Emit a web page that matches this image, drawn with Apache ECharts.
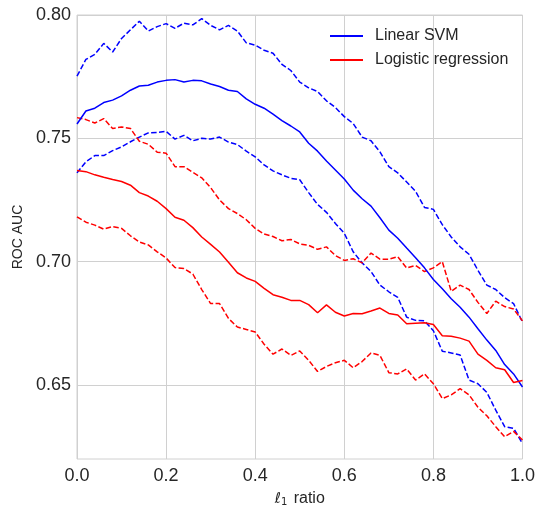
<!DOCTYPE html>
<html>
<head>
<meta charset="utf-8">
<script src="https://cdn.jsdelivr.net/npm/echarts@6/dist/echarts.min.js"></script>
<style>html,body{margin:0;padding:0;background:#fff;}#c{width:538px;height:512px;}</style>
</head>
<body>
<div id="c"></div>
<script>
const xRatio = [0.00,0.02,0.04,0.06,0.08,0.10,0.12,0.14,0.16,0.18,0.20,0.22,0.24,0.26,0.28,0.30,0.32,0.34,0.36,0.38,0.40,0.42,0.44,0.46,0.48,0.50,0.52,0.54,0.56,0.58,0.60,0.62,0.64,0.66,0.68,0.70,0.72,0.74,0.76,0.78,0.80,0.82,0.84,0.86,0.88,0.90,0.92,0.94,0.96,0.98,1.00];
const svmMean = [0.7558,0.7611,0.7622,0.7645,0.7655,0.7672,0.7695,0.7712,0.7715,0.7728,0.7735,0.7738,0.7728,0.7735,0.7733,0.7720,0.7710,0.7695,0.7690,0.7660,0.7638,0.7622,0.7598,0.7572,0.7550,0.7526,0.7480,0.7448,0.7408,0.7372,0.7335,0.7290,0.7255,0.7225,0.7178,0.7128,0.7095,0.7055,0.7016,0.6975,0.6928,0.6890,0.6850,0.6815,0.6775,0.6728,0.6682,0.6640,0.6583,0.6545,0.6492];
const svmUpper = [0.7752,0.7820,0.7840,0.7885,0.7850,0.7905,0.7940,0.7975,0.7935,0.7953,0.7965,0.7946,0.7967,0.7960,0.7985,0.7958,0.7940,0.7958,0.7935,0.7887,0.7878,0.7857,0.7845,0.7800,0.7775,0.7728,0.7705,0.7690,0.7652,0.7625,0.7588,0.7560,0.7505,0.7490,0.7445,0.7385,0.7360,0.7323,0.7285,0.7220,0.7212,0.7150,0.7100,0.7060,0.7030,0.6965,0.6905,0.6887,0.6854,0.6830,0.6755];
const svmLower = [0.7360,0.7405,0.7430,0.7430,0.7450,0.7465,0.7486,0.7505,0.7522,0.7524,0.7528,0.7497,0.7512,0.7490,0.7500,0.7497,0.7505,0.7485,0.7475,0.7448,0.7425,0.7392,0.7368,0.7352,0.7338,0.7332,0.7280,0.7232,0.7200,0.7155,0.7115,0.7040,0.6995,0.6960,0.6905,0.6878,0.6855,0.6775,0.6762,0.6760,0.6720,0.6637,0.6630,0.6622,0.6520,0.6505,0.6470,0.6398,0.6331,0.6324,0.6263];
const lrMean = [0.7370,0.7365,0.7352,0.7342,0.7333,0.7325,0.7310,0.7280,0.7266,0.7245,0.7215,0.7180,0.7168,0.7138,0.7100,0.7070,0.7039,0.6998,0.6955,0.6934,0.6920,0.6892,0.6866,0.6856,0.6843,0.6843,0.6826,0.6793,0.6825,0.6795,0.6780,0.6790,0.6789,0.6800,0.6812,0.6790,0.6784,0.6748,0.6750,0.6752,0.6745,0.6700,0.6698,0.6690,0.6678,0.6625,0.6600,0.6570,0.6562,0.6510,0.6518];
const lrUpper = [0.7584,0.7576,0.7562,0.7580,0.7540,0.7546,0.7540,0.7488,0.7476,0.7444,0.7440,0.7385,0.7385,0.7362,0.7340,0.7300,0.7250,0.7215,0.7195,0.7170,0.7135,0.7112,0.7102,0.7085,0.7090,0.7072,0.7066,0.7050,0.7060,0.7025,0.7005,0.7012,0.6995,0.7035,0.7010,0.7010,0.7020,0.6974,0.6985,0.6960,0.6975,0.7000,0.6880,0.6905,0.6887,0.6835,0.6790,0.6840,0.6818,0.6808,0.6760];
const lrLower = [0.7182,0.7160,0.7148,0.7132,0.7142,0.7135,0.7105,0.7080,0.7068,0.7040,0.7015,0.6976,0.6972,0.6950,0.6887,0.6830,0.6830,0.6770,0.6735,0.6725,0.6715,0.6665,0.6625,0.6646,0.6620,0.6638,0.6600,0.6555,0.6575,0.6590,0.6600,0.6570,0.6595,0.6630,0.6620,0.6550,0.6545,0.6565,0.6520,0.6545,0.6505,0.6445,0.6460,0.6485,0.6460,0.6410,0.6375,0.6331,0.6290,0.6312,0.6277];
const xTicks = [0.0,0.2,0.4,0.6,0.8,1.0];
const yTicks = [0.65,0.70,0.75,0.80];

const FONT = '"Liberation Sans", Arial, sans-serif';
const TXT = '#262626';
const GRID = '#d0d0d0';

function pairs(ys){ return xRatio.map((x,i)=>[x, ys[i]]); }
function line(name, ys, color, dashed){
  return {
    name, type:'line', data: pairs(ys), showSymbol:false, symbol:'none',
    lineStyle:{color, width:1.5, type: dashed ? [5.5,2.4] : 'solid'},
    itemStyle:{color}, silent:true, animation:false, z: dashed ? 2 : 3
  };
}

const chart = echarts.init(document.getElementById('c'), null, {renderer:'canvas'});
chart.setOption({
  animation:false,
  backgroundColor:'#fff',
  grid:{left:77, right:13, top:15, bottom:49, show:true, borderColor:GRID, borderWidth:1, backgroundColor:'#fff'},
  legend:{
    data:['Linear SVM','Logistic regression'],
    orient:'vertical', left:325, top:23, icon:'rect', itemWidth:33, itemHeight:2, itemGap:8,
    textStyle:{fontFamily:FONT, fontSize:16, color:TXT, lineHeight:16, padding:[0,0,0,7]}
  },
  xAxis:{
    type:'value', min:0, max:1, interval:0.2,
    axisLine:{show:false}, axisTick:{show:false},
    splitLine:{show:true, lineStyle:{color:GRID, width:1}},
    axisLabel:{fontFamily:FONT, fontSize:18, color:TXT, margin:8, formatter:v=>v.toFixed(1),
      customValues: xTicks},
    name:'{l|ℓ}{s|1} ratio', nameLocation:'middle', nameGap:32,
    nameTextStyle:{fontFamily:FONT, fontSize:16, color:TXT,
      rich:{l:{fontFamily:'"DejaVu Sans"', fontStyle:'italic', fontSize:15, color:TXT, verticalAlign:'bottom'},
            s:{fontFamily:'"DejaVu Sans"', fontSize:10, color:TXT, padding:[6,2,0,0], verticalAlign:'bottom'}}}
  },
  yAxis:{
    type:'value', min:0.62, max:0.80,
    axisLine:{show:false},
    axisTick:{show:false, customValues:yTicks},
    splitLine:{show:true, lineStyle:{color:GRID, width:1}},
    axisLabel:{fontFamily:FONT, fontSize:18, color:TXT, margin:6, formatter:v=>v.toFixed(2), customValues:yTicks},
    name:'ROC AUC', nameLocation:'middle', nameGap:48, nameRotate:90,
    nameTextStyle:{fontFamily:FONT, fontSize:14, color:TXT}
  },
  series:[
    line('Linear SVM upper', svmUpper, '#0000ff', true),
    line('Linear SVM lower', svmLower, '#0000ff', true),
    line('Logistic regression upper', lrUpper, '#ff0000', true),
    line('Logistic regression lower', lrLower, '#ff0000', true),
    line('Linear SVM', svmMean, '#0000ff', false),
    line('Logistic regression', lrMean, '#ff0000', false)
  ]
});
</script>
</body>
</html>
